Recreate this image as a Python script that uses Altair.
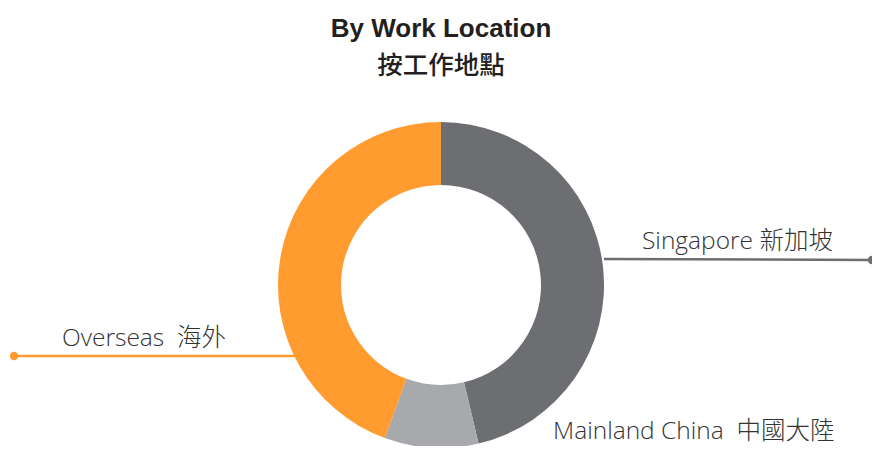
import altair as alt
import pandas as pd

# ---- data ----
categories = ["Singapore 新加坡", "Mainland China 中國大陸", "Overseas 海外"]
label_texts = ["Singapore 新加坡", "Mainland China\u00a0 中國大陸", "Overseas\u00a0 海外"]
shares = [46.3, 9.3, 44.4]
colors = ["#6d6e71", "#a7a9ac", "#ff9b2f"]
title_text = "By Work Location"
subtitle_text = "按工作地點"

# ---- layout (plot-pixel coordinates) ----
W, H = 864, 438
CX, CY = 433, 277
R_OUT, R_IN = 163, 100
label_x = [634, 545, 54]
label_y = [241, 431, 337.5]
seg_cat = [categories[0], categories[1], categories[1], categories[2]]
seg_x1 = [596, 449, 455, 6]
seg_y1 = [251, 439, 445, 348]
seg_x2 = [864, 455, 862, 287]
seg_y2 = [252, 445, 445, 348]
dot_cat = categories
dot_x = [864, 862, 6]
dot_y = [252, 445, 348]

slices = pd.DataFrame({"cat": categories, "share": shares, "idx": list(range(len(categories)))})
labels = pd.DataFrame({"cat": categories, "txt": label_texts, "lx": label_x, "ly": label_y})
segs = pd.DataFrame({"cat": seg_cat, "x": seg_x1, "y": seg_y1, "x2": seg_x2, "y2": seg_y2})
dots = pd.DataFrame({"cat": dot_cat, "x": dot_x, "y": dot_y})

xs = alt.Scale(domain=[0, W], nice=False, zero=False)
ys = alt.Scale(domain=[0, H], nice=False, zero=False, reverse=True)
cscale = alt.Scale(domain=categories, range=colors)

arc = alt.Chart(slices).mark_arc(outerRadius=R_OUT, innerRadius=R_IN).encode(
    theta=alt.Theta("share:Q", stack=True),
    color=alt.Color("cat:N", scale=cscale, legend=None),
    order=alt.Order("idx:Q"),
    x=alt.value(CX),
    y=alt.value(CY),
)

lines = alt.Chart(segs).mark_rule(strokeWidth=2.5).encode(
    x=alt.X("x:Q", scale=xs, axis=None),
    y=alt.Y("y:Q", scale=ys, axis=None),
    x2="x2:Q",
    y2="y2:Q",
    color=alt.Color("cat:N", scale=cscale, legend=None),
)

pts = alt.Chart(dots).mark_circle(size=70, opacity=1).encode(
    x=alt.X("x:Q", scale=xs, axis=None),
    y=alt.Y("y:Q", scale=ys, axis=None),
    color=alt.Color("cat:N", scale=cscale, legend=None),
)

txt = alt.Chart(labels).mark_text(
    align="left", baseline="alphabetic", fontSize=24.5, fontWeight=300,
    font="Open Sans, Noto Sans CJK TC", color="#333333",
).encode(
    x=alt.X("lx:Q", scale=xs, axis=None),
    y=alt.Y("ly:Q", scale=ys, axis=None),
    text="txt:N",
)

title = alt.Chart(pd.DataFrame({"t": [title_text]})).mark_text(
    align="center", baseline="alphabetic", fontSize=26, fontWeight="bold",
    font="Liberation Sans, Noto Sans CJK TC", color="#231f20",
).encode(x=alt.value(CX), y=alt.value(28.5), text="t:N")

subtitle = alt.Chart(pd.DataFrame({"t": [subtitle_text]})).mark_text(
    align="center", baseline="alphabetic", fontSize=25.5, fontWeight=500,
    font="Noto Sans CJK TC", color="#231f20",
).encode(x=alt.value(CX), y=alt.value(66), text="t:N")

chart = alt.layer(arc, lines, pts, txt, title, subtitle).properties(
    width=W, height=H, autosize=alt.AutoSizeParams(type="none"), padding=0
).configure_view(stroke=None)

chart.save("out.html", embed_options={"renderer": "svg", "actions": False})
